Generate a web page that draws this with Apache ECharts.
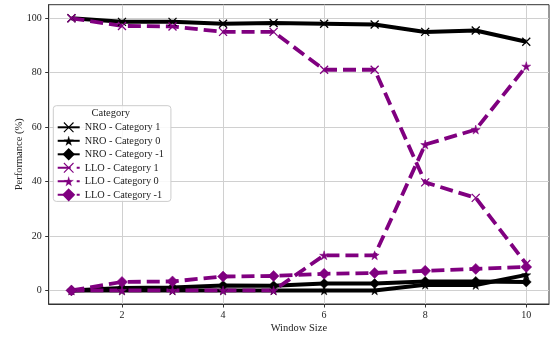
<!DOCTYPE html>
<html>
<head>
<meta charset="utf-8">
<script src="https://cdn.jsdelivr.net/npm/echarts@6/dist/echarts.min.js"></script>
<style>
  html, body { margin: 0; padding: 0; background: #fff; }
  #chart { width: 553px; height: 337px; }
</style>
</head>
<body>
<div id="chart"></div>
<script>
// Window sizes on the x axis
const windowSizes = [1, 2, 3, 4, 5, 6, 7, 8, 9, 10];

// Performance (%) per category for each method
const nroCat1   = [100, 98.7, 98.7, 98.0, 98.3, 98.0, 97.7, 95.0, 95.5, 91.4];
const nroCat0   = [0, 0, 0, 0, 0, 0, 0, 2.1, 2.0, 5.7];
const nroCatNeg = [0, 0.9, 1.1, 1.8, 1.7, 2.5, 2.5, 3.3, 3.3, 3.1];
const lloCat1   = [100, 97.2, 97.0, 95.0, 95.0, 81.1, 81.1, 39.7, 34.0, 9.7];
const lloCat0   = [0, 0, 0, 0, 0, 12.9, 12.9, 53.6, 59.1, 82.4];
const lloCatNeg = [0, 3.1, 3.3, 5.1, 5.3, 6.1, 6.4, 7.2, 7.9, 8.6];

// Tick positions
const xTicks = [2, 4, 6, 8, 10];
const yTicks = [0, 20, 40, 60, 80, 100];

const FONT = "'Liberation Serif', 'DejaVu Serif', serif";
const PURPLE = '#800080';
const X_MARK = 'path://M0,0L10,10M10,0L0,10';
const STAR = 'path://M50,0L61,35L98,35L68,57L79,91L50,70L21,91L32,57L2,35L39,35Z';

function pairs(vals) {
  return windowSizes.map((x, i) => [x, vals[i]]);
}

function makeSeries(name, vals, color, dashed, symbol, size, isX) {
  return {
    name: name,
    type: 'line',
    data: pairs(vals),
    symbol: symbol,
    symbolSize: size,
    showAllSymbol: true,
    lineStyle: { color: color, width: dashed ? 3.8 : 4, type: dashed ? [13, 6] : 'solid', cap: 'butt' },
    itemStyle: isX
      ? { color: color, borderColor: color, borderWidth: 1.3 }
      : { color: color, borderColor: color, borderWidth: 0.5 },
    emphasis: { disabled: true },
    animation: false,
    clip: false
  };
}

// Legend entries with per-marker stroke weight
function legendItem(name, stroke) {
  return { name: name, itemStyle: { borderWidth: stroke } };
}

const chart = echarts.init(document.getElementById('chart'), null, { renderer: 'canvas' });

chart.setOption({
  animation: false,
  grid: {
    left: 48.7, right: 4, top: 4.7, bottom: 33,
    show: true, borderColor: '#333', borderWidth: 1,
    containLabel: false, outerBoundsMode: 'none'
  },
  xAxis: {
    type: 'value',
    min: 0.55, max: 10.45,
    name: 'Window Size',
    nameLocation: 'middle',
    nameGap: 18.5,
    nameMoveOverlap: false,
    nameTextStyle: { fontFamily: FONT, fontSize: 10.5, color: '#222', verticalAlign: 'top' },
    axisLine: { show: true, onZero: false, lineStyle: { color: '#333', width: 1 } },
    axisTick: { show: true, inside: false, length: 3.5, customValues: xTicks, lineStyle: { color: '#333' } },
    axisLabel: { customValues: xTicks, fontFamily: FONT, fontSize: 10, color: '#222', margin: 6 },
    splitLine: { show: true, lineStyle: { color: '#d0d0d0', width: 1 } }
  },
  yAxis: {
    type: 'value',
    min: -5, max: 105,
    name: 'Performance (%)',
    nameLocation: 'middle',
    nameGap: 24,
    nameMoveOverlap: false,
    nameTextStyle: { fontFamily: FONT, fontSize: 10.5, color: '#222' },
    axisLine: { show: true, onZero: false, lineStyle: { color: '#333', width: 1 } },
    axisTick: { show: true, inside: false, length: 3.5, customValues: yTicks, lineStyle: { color: '#333' } },
    axisLabel: { customValues: yTicks, fontFamily: FONT, fontSize: 10, color: '#222', margin: 7 },
    splitLine: { show: true, lineStyle: { color: '#d0d0d0', width: 1 } }
  },
  legend: {
    left: 53.3, top: 105.7,
    orient: 'vertical',
    selectedMode: false,
    itemWidth: 22, itemHeight: 12, itemGap: 1.5,
    padding: [15.6, 7, 0.5, 3.4],
    backgroundColor: 'rgba(255,255,255,0.85)',
    borderColor: '#cccccc', borderWidth: 1, borderRadius: 3,
    itemStyle: { borderWidth: 1.1 },
    textStyle: { fontFamily: FONT, fontSize: 10.3, lineHeight: 12, color: '#222' },
    data: [
      legendItem('NRO - Category 1', 1.1),
      legendItem('NRO - Category 0', 0.2),
      legendItem('NRO - Category -1', 2),
      legendItem('LLO - Category 1', 1.1),
      legendItem('LLO - Category 0', 0.2),
      legendItem('LLO - Category -1', 2.5)
    ]
  },
  graphic: [{
    type: 'text', z: 100,
    left: 91.5, top: 108,
    style: { text: 'Category', fontFamily: FONT, fontSize: 10.5, fill: '#222' }
  }],
  series: [
    makeSeries('NRO - Category 1', nroCat1, '#000', false, X_MARK, 8, true),
    makeSeries('NRO - Category 0', nroCat0, '#000', false, STAR, 9, false),
    makeSeries('NRO - Category -1', nroCatNeg, '#000', false, 'diamond', 10, false),
    makeSeries('LLO - Category 1', lloCat1, PURPLE, true, X_MARK, 8, true),
    makeSeries('LLO - Category 0', lloCat0, PURPLE, true, STAR, 9, false),
    makeSeries('LLO - Category -1', lloCatNeg, PURPLE, true, 'diamond', 11, false)
  ]
});
</script>
</body>
</html>
